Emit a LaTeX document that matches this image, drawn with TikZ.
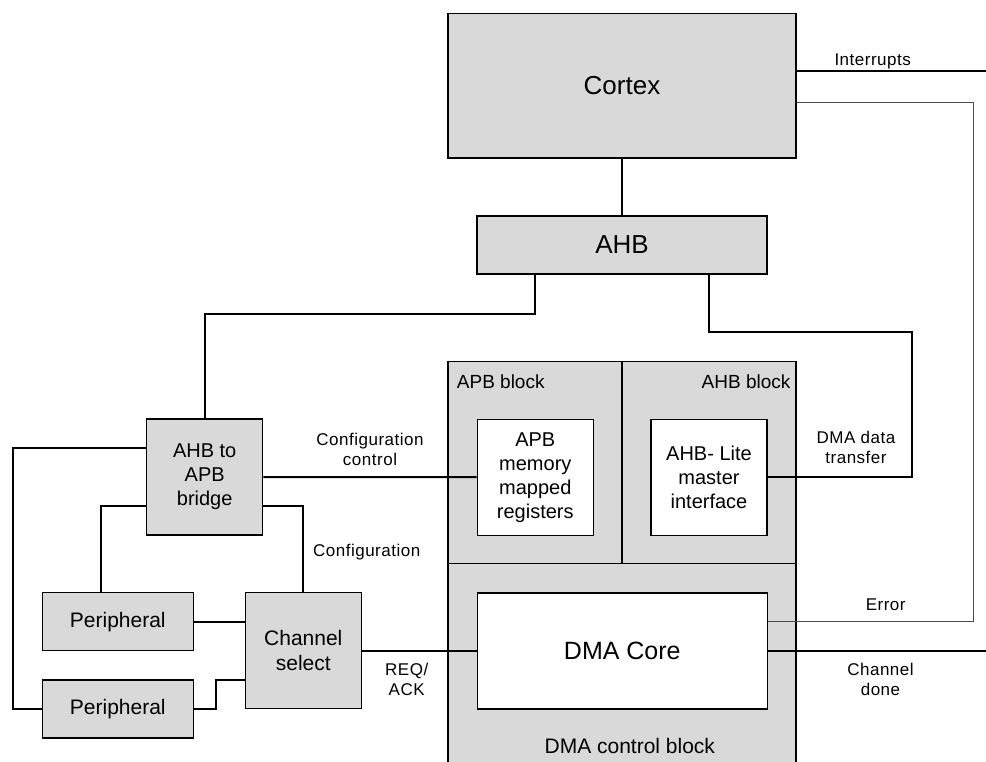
\documentclass[tikz,border=0pt]{standalone}
\usepackage{fontspec}
\setmainfont{Liberation Sans}
\definecolor{boxgray}{RGB}{217,217,217}
\begin{document}
\begin{tikzpicture}[x=1pt,y=-1pt,
  box/.style={draw=black, line width=1.3pt, fill=boxgray, inner sep=0pt, align=center},
  wbox/.style={draw=black, line width=1.3pt, fill=white, inner sep=0pt, align=center},
  wire/.style={line width=2pt},
  thinwire/.style={line width=1pt, draw=black!70},
  lbl/.style={font=\fontsize{17}{20}\selectfont\addfontfeatures{LetterSpace=3}, align=center, inner sep=0pt},
  big/.style={font=\fontsize{26}{30}\selectfont},
  med/.style={font=\fontsize{20}{24}\selectfont},
  blk/.style={font=\fontsize{19}{22}\selectfont, inner sep=0pt}]
\useasboundingbox (0,0) rectangle (986,761);

% blocks
\node[box, minimum width=348, minimum height=144.7, big] (cortex) at (622,85.7) {Cortex};
\node[box, minimum width=290, minimum height=58, big] (ahb) at (622,245) {AHB};

\node[box, minimum width=174, minimum height=201.6] (apbblk) at (535,462.5) {};
\node[box, minimum width=174, minimum height=201.6] (ahbblk) at (709,462.5) {};
\node[box, minimum width=348, minimum height=220] (dmablk) at (622,673.3) {};
\node[blk, anchor=west] (apbblktxt) at (456.7,381.7) {APB block};
\node[blk, anchor=east] (ahbblktxt) at (790.6,381.7) {AHB block};
\node[font=\fontsize{21}{24}\selectfont, inner sep=0pt] (dmablktxt) at (629.8,746) {DMA control block};

\node[wbox, minimum width=116, minimum height=116, med] (apbmem) at (535.3,477.2) {APB\\memory\\mapped\\registers};
\node[wbox, minimum width=116, minimum height=116, med] (ahblite) at (709,477.2) {AHB- Lite\\master\\interface};
\node[wbox, minimum width=290, minimum height=116, font=\fontsize{25}{30}\selectfont] (dmacore) at (622.3,651) {DMA Core};

\node[box, minimum width=116, minimum height=116, med] (bridge) at (204.7,477) {AHB to\\APB\\bridge};
\node[box, minimum width=151, minimum height=58, font=\fontsize{21}{24}\selectfont] (per1) at (117.8,621.7) {Peripheral};
\node[box, minimum width=151, minimum height=58, font=\fontsize{21}{24}\selectfont] (per2) at (117.8,709) {Peripheral};
\node[box, minimum width=116, minimum height=116, font=\fontsize{21}{25}\selectfont] (chansel) at (303.3,650.8) {Channel\\select};

% coordinates
\coordinate (b1) at (303.3,506);
\coordinate (b2) at (100.7,506);
\coordinate (b3) at (13.3,448.3);
\coordinate (b4) at (216,680);
\coordinate (b5) at (535,314);
\coordinate (b6) at (709,331.7);
\coordinate (b7) at (912,477.2);
\coordinate (irq) at (986,71);
\coordinate (e1) at (973,102.7);
\coordinate (e2) at (973,621.7);
\coordinate (cd) at (986,651);

% connectors
\draw[wire] (cortex.south) -- (ahb.north);
\draw[wire] (ahb.south -| b5) -- (b5) -| (bridge.north);
\draw[wire] (ahb.south -| b6) |- (b7 |- b6) -- (b7) -- (ahblite.east);
\draw[wire] (cortex.east |- irq) -- (irq);
\draw[thinwire] (cortex.east |- e1) -- (e1) -- (e2) -- (dmacore.east |- e2);
\draw[wire] (dmacore.east) -- (cd);
\draw[wire] (bridge.east) -- (apbmem.west);
\draw[wire] (bridge.east |- b1) -| (chansel.north);
\draw[wire] (bridge.west |- b2) -- (b2) -- (b2 |- per1.north);
\draw[wire] (bridge.west |- b3) -- (b3) |- (per2.west);
\draw[wire] (per1.east) -- (chansel.west |- per1.east);
\draw[wire] (per2.east) -| (b4) -- (chansel.west |- b4);
\draw[wire] (chansel.east) -- (dmacore.west |- chansel.east);

% labels
\node[lbl] (lirq) at (872.7,61) {Interrupts};
\node[lbl] (lcfgc) at (370,449) {Configuration\\control};
\node[lbl] (lcfg) at (366.7,552.3) {Configuration};
\node[lbl] (lreq) at (406.7,679) {REQ/\\ACK};
\node[lbl] (ldma) at (856,447.3) {DMA data\\transfer};
\node[lbl] (lerr) at (885.7,604.3) {Error};
\node[lbl] (ldone) at (880.5,679.3) {Channel\\done};
\end{tikzpicture}
\end{document}
